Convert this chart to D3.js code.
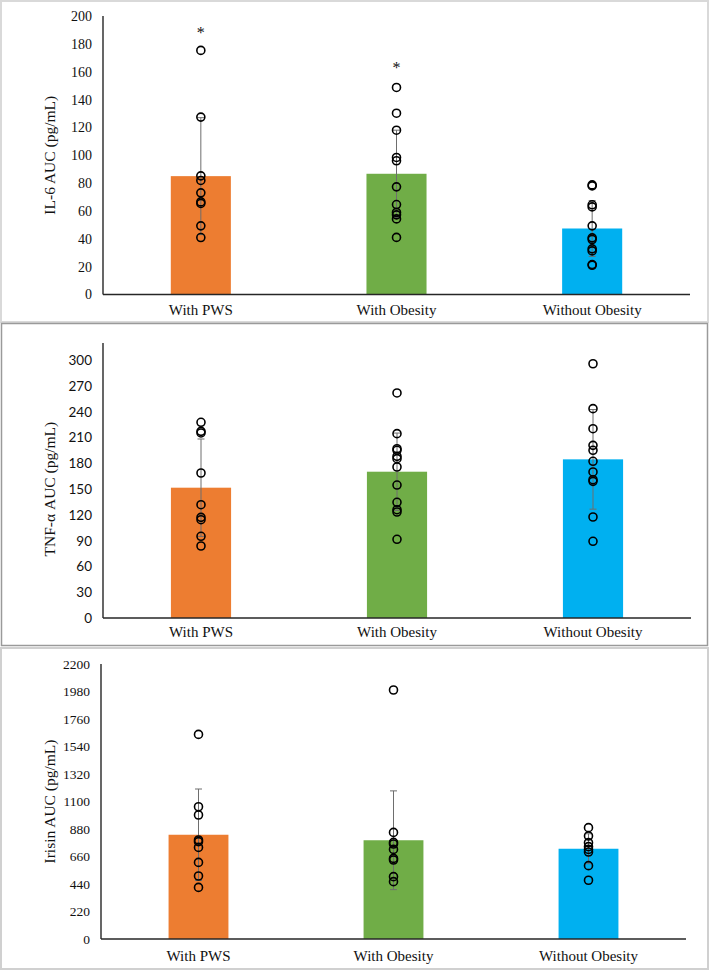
<!DOCTYPE html>
<html>
<head>
<meta charset="utf-8">
<script src="https://cdn.jsdelivr.net/npm/d3@7"></script>
<style>
  body { margin: 0; background: #fff; }
  svg { display: block; }
</style>
</head>
<body>
<svg id="canvas" width="709" height="970"></svg>
<script>

// groups shared by the three panels.

const groups = ["With PWS", "With Obesity", "Without Obesity"];
const colours = ["#ED7D31", "#70AD47", "#00B0F0"];

// IL-6 panel.

const il6Mean = [85, 86.7, 47.4];
const il6Sd = [42, 31.3, 20];
const il6Points = [
    [175.3, 127.4, 85.2, 81.9, 73, 66.5, 65.4, 49.3, 40.9],
    [148.7, 130.2, 118, 98.4, 96, 77.3, 64.6, 58.9, 57.2, 54.3, 41],
    [78.7, 78, 64.4, 62.9, 49.3, 40.7, 39.5, 32.8, 31.3, 21.5, 21]
];
const il6Stars = [190, 164.7, null];
const il6Ticks = [0, 20, 40, 60, 80, 100, 120, 140, 160, 180, 200];

// TNF-alpha panel.

const tnfMean = [151.7, 170.3, 184.7];
const tnfSd = [56.7, 45, 58];
const tnfPoints = [
    [227.8, 217.3, 215.4, 168.8, 131.9, 117.2, 114.4, 95.1, 83.8],
    [262, 214.6, 197.1, 195.2, 188.2, 185.5, 175.8, 154.8, 134.7, 126.1, 123.4, 91.6],
    [296, 243.7, 220.4, 201, 195.2, 182.4, 170, 161, 159.1, 117.6, 89.3]
];
const tnfTicks = [0, 30, 60, 90, 120, 150, 180, 210, 240, 270, 300];

// Irisin panel.

const irisinMean = [834, 790, 722];
const irisinSd = [366, 395, 120];
const irisinPoints = [
    [1637, 1058, 992, 792, 779, 733, 613, 504, 413],
    [1992, 853, 773, 760, 717, 645, 632, 499, 459],
    [891, 824, 771, 739, 717, 696, 587, 470]
];
const irisinTicks = [0, 220, 440, 660, 880, 1100, 1320, 1540, 1760, 1980, 2200];

const serif = '"Liberation Serif", "Times New Roman", serif';

// draw one bar panel with its frame, axes, error bars and dots.

function draw_panel(p) {

    const svg = d3.select("#canvas");
    const g = svg.append("g");

    g.append("rect")
        .attr("x", p.frame[0])
        .attr("y", p.frame[1])
        .attr("width", p.frame[2])
        .attr("height", p.frame[3])
        .attr("fill", "none")
        .attr("stroke", p.frameColour)
        .attr("stroke-width", p.frameWidth);

    const x = d3.scaleBand().domain(groups).range([p.left, p.right])
        .paddingInner(0.693).paddingOuter(0.3465);
    const y = d3.scaleLinear().domain([0, p.ticks[p.ticks.length - 1]]).range([p.bottom, p.top]);
    const cx = i => x(groups[i]) + x.bandwidth() / 2;

    // bars.

    g.selectAll(".bar")
        .data(p.means)
        .join("rect")
        .attr("class", "bar")
        .attr("x", (d, i) => x(groups[i]))
        .attr("y", d => y(d))
        .attr("width", x.bandwidth())
        .attr("height", d => y(0) - y(d))
        .attr("fill", (d, i) => colours[i]);

    // error bars.

    const err = g.selectAll(".err")
        .data(p.means)
        .join("g")
        .attr("class", "err")
        .attr("stroke", "#6e6e6e")
        .attr("stroke-width", 1);
    err.append("line")
        .attr("x1", (d, i) => cx(i)).attr("x2", (d, i) => cx(i))
        .attr("y1", (d, i) => y(d - p.sd[i])).attr("y2", (d, i) => y(d + p.sd[i]));
    err.append("line")
        .attr("x1", (d, i) => cx(i) - 3.5).attr("x2", (d, i) => cx(i) + 3.5)
        .attr("y1", (d, i) => y(d + p.sd[i])).attr("y2", (d, i) => y(d + p.sd[i]));
    err.append("line")
        .attr("x1", (d, i) => cx(i) - 3.5).attr("x2", (d, i) => cx(i) + 3.5)
        .attr("y1", (d, i) => y(d - p.sd[i])).attr("y2", (d, i) => y(d - p.sd[i]));

    // axis lines.

    g.append("line")
        .attr("x1", p.left).attr("x2", p.left)
        .attr("y1", y(0)).attr("y2", y(p.lineTop))
        .attr("stroke", "#262626").attr("stroke-width", 1.4);
    g.append("line")
        .attr("x1", p.left).attr("x2", p.right)
        .attr("y1", y(0)).attr("y2", y(0))
        .attr("stroke", "#262626").attr("stroke-width", 1.4);

    // y ticks.

    g.append("g")
        .attr("transform", `translate(${p.left},0)`)
        .call(d3.axisLeft(y).tickValues(p.ticks).tickFormat(d3.format("d")).tickSize(0).tickPadding(11))
        .call(a => a.select(".domain").remove())
        .selectAll("text")
        .attr("fill", "#111")
        .style("font-family", p.tickFont)
        .style("font-size", p.tickSize + "px");

    // category labels.

    g.append("g")
        .attr("transform", `translate(0,${y(0)})`)
        .call(d3.axisBottom(x).tickSize(0).tickPadding(p.labelPad))
        .call(a => a.select(".domain").remove())
        .selectAll("text")
        .attr("fill", "#111")
        .style("font-family", serif)
        .style("font-size", "15px");

    // individual points.

    p.points.forEach((pts, i) => {
        g.selectAll(".dot" + i)
            .data(pts)
            .join("circle")
            .attr("class", "dot" + i)
            .attr("cx", cx(i))
            .attr("cy", d => y(d))
            .attr("r", 4)
            .attr("fill", "none")
            .attr("stroke", "#000")
            .attr("stroke-width", 1.6);
    });

    // significance marks.

    if (p.stars) {
        g.selectAll(".star")
            .data(p.stars.map((v, i) => ({ v, i })).filter(d => d.v !== null))
            .join("text")
            .attr("class", "star")
            .attr("x", d => cx(d.i))
            .attr("y", d => y(d.v) + 8)
            .attr("text-anchor", "middle")
            .attr("fill", "#111")
            .style("font-family", serif)
            .style("font-size", "16px")
            .text("*");
    }

    // y axis title.

    g.append("text")
        .attr("transform", `translate(${p.titleX},${(y(0) + y(p.ticks[p.ticks.length - 1])) / 2}) rotate(-90)`)
        .attr("text-anchor", "middle")
        .attr("dy", "0.35em")
        .attr("fill", "#111")
        .style("font-family", serif)
        .style("font-size", "15.5px")
        .text(p.title);
}

draw_panel({
    frame: [1, 1, 707, 321], frameColour: "#d9d9d9", frameWidth: 2,
    left: 103, right: 690, top: 16, bottom: 294.5, lineTop: 200,
    ticks: il6Ticks, means: il6Mean, sd: il6Sd, points: il6Points, stars: il6Stars,
    tickFont: serif, tickSize: 14, labelPad: 10,
    title: "IL-6 AUC (pg/mL)", titleX: 50
});

draw_panel({
    frame: [1.5, 323.5, 706, 322], frameColour: "#9a9a9a", frameWidth: 1.5,
    left: 103, right: 691, top: 360.3, bottom: 618, lineTop: 320,
    ticks: tnfTicks, means: tnfMean, sd: tnfSd, points: tnfPoints, stars: null,
    tickFont: "Lato, Carlito, sans-serif", tickSize: 13.5, labelPad: 8,
    title: "TNF-α AUC (pg/mL)", titleX: 50
});

draw_panel({
    frame: [1, 648, 707, 321], frameColour: "#d0d0d0", frameWidth: 2,
    left: 101, right: 686, top: 664, bottom: 939, lineTop: 2200,
    ticks: irisinTicks, means: irisinMean, sd: irisinSd, points: irisinPoints, stars: null,
    tickFont: serif, tickSize: 13.5, labelPad: 11,
    title: "Irisin AUC (pg/mL)", titleX: 50
});

</script>
</body>
</html>
